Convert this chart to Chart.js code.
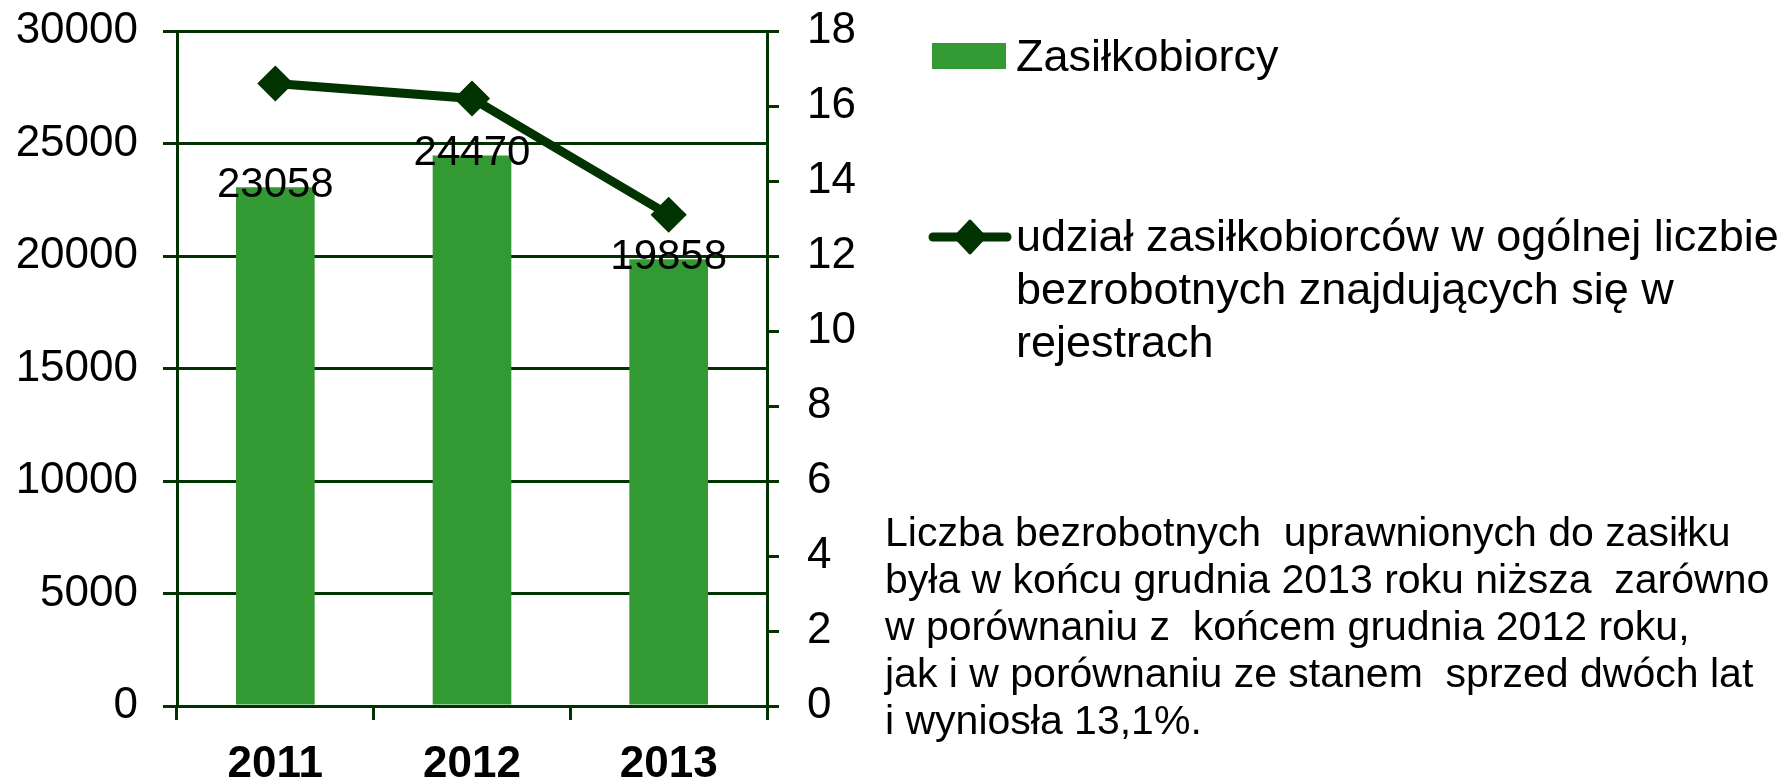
<!DOCTYPE html>
<html>
<head>
<meta charset="utf-8">
<title>Zasiłkobiorcy</title>
<script src="https://cdn.jsdelivr.net/npm/chart.js@4/dist/chart.umd.min.js"></script>
<style>
  html, body { margin: 0; padding: 0; background: #fff; }
  #wrap { width: 1789px; height: 780px; position: relative; }
</style>
</head>
<body>
<div id="wrap"><canvas id="chart" width="1789" height="780"></canvas></div>
<script>
// ── DATA ──
const years       = ['2011', '2012', '2013'];
const benefitRecv = [23058, 24470, 19858];   // Zasiłkobiorcy
const sharePct    = [16.6, 16.2, 13.1];      // udział w ogólnej liczbie bezrobotnych
const leftTicks   = [0, 30000, 5000];        // min, max, step
const rightTicks  = [0, 18, 2];

const legendBar  = 'Zasiłkobiorcy';
const legendLine = ['udział zasiłkobiorców w ogólnej liczbie',
                    'bezrobotnych znajdujących się w',
                    'rejestrach'];
const note = ['Liczba bezrobotnych  uprawnionych do zasiłku',
              'była w końcu grudnia 2013 roku niższa  zarówno',
              'w porównaniu z  końcem grudnia 2012 roku,',
              'jak i w porównaniu ze stanem  sprzed dwóch lat',
              'i wyniosła 13,1%.'];

// ── COLORS ──
const COLORS = {
  bar:  '#339933',
  dark: '#003300',
  text: '#000000',
};

const FONT = "'Liberation Sans', Arial, sans-serif";
Chart.defaults.font.family = FONT;
Chart.defaults.color       = COLORS.text;

// ── PLUGIN: value labels on bars ──
const barLabels = {
  id: 'barLabels',
  afterDatasetsDraw(chart) {
    const ctx  = chart.ctx;
    const meta = chart.getDatasetMeta(1);   // bar dataset
    ctx.save();
    ctx.font = `42px ${FONT}`;
    ctx.fillStyle = COLORS.text;
    ctx.textAlign = 'center';
    ctx.textBaseline = 'alphabetic';
    meta.data.forEach((bar, i) => {
      ctx.fillText(String(benefitRecv[i]), bar.x, bar.y + 10);
    });
    ctx.restore();
  }
};

// ── PLUGIN: legend + side note ──
const sidePanel = {
  id: 'sidePanel',
  afterDraw(chart) {
    const ctx = chart.ctx;
    ctx.save();

    // bar swatch
    ctx.fillStyle = COLORS.bar;
    ctx.fillRect(932, 43, 74, 26);

    // line swatch
    ctx.strokeStyle = COLORS.dark;
    ctx.lineWidth = 9;
    ctx.lineCap = 'round';
    ctx.beginPath();
    ctx.moveTo(933, 237);
    ctx.lineTo(1007, 237);
    ctx.stroke();
    ctx.fillStyle = COLORS.dark;
    ctx.lineJoin = 'round';
    ctx.lineWidth = 3;
    ctx.beginPath();
    ctx.moveTo(970, 221);
    ctx.lineTo(985, 237);
    ctx.lineTo(970, 253);
    ctx.lineTo(955, 237);
    ctx.closePath();
    ctx.fill();
    ctx.stroke();

    ctx.fillStyle = COLORS.text;
    ctx.textAlign = 'left';
    ctx.textBaseline = 'alphabetic';
    ctx.font = `45px ${FONT}`;
    ctx.fillText(legendBar, 1016, 71);
    legendLine.forEach((t, i) => ctx.fillText(t, 1016, 251 + i * 53));

    ctx.font = `41px ${FONT}`;
    note.forEach((t, i) => ctx.fillText(t, 885, 546 + i * 47));

    ctx.restore();
  }
};

// keep the plot area exactly where the padding puts it
const noEdgePad = s => { s.paddingTop = 0; s.paddingBottom = 0; };

new Chart(document.getElementById('chart'), {
  type: 'bar',
  data: {
    labels: years,
    datasets: [
      {
        type: 'line',
        label: legendLine.join(' '),
        data: sharePct,
        yAxisID: 'y1',
        borderColor: COLORS.dark,
        backgroundColor: COLORS.dark,
        borderWidth: 9,
        pointStyle: 'rectRot',
        pointRadius: 16,
        pointBorderWidth: 3,
        pointBackgroundColor: COLORS.dark,
        pointBorderColor: COLORS.dark,
        tension: 0,
        order: 0,
      },
      {
        type: 'bar',
        label: legendBar,
        data: benefitRecv,
        yAxisID: 'y',
        backgroundColor: COLORS.bar,
        barPercentage: 0.4,
        categoryPercentage: 1,
        order: 1,
      },
    ],
  },
  options: {
    responsive: false,
    animation: false,
    layout: { padding: { left: 0, right: 922, top: 31, bottom: 0 } },
    plugins: {
      legend:  { display: false },
      tooltip: { enabled: false },
    },
    scales: {
      x: {
        grid:   { drawOnChartArea: false, color: COLORS.dark, lineWidth: 3, tickLength: 14 },
        border: { color: COLORS.dark, width: 3 },
        ticks:  { font: { size: 44, weight: 'bold' }, color: COLORS.text, padding: 18 },
        afterFit: s => { s.height = 74; },
      },
      y: {
        position: 'left',
        min: leftTicks[0], max: leftTicks[1],
        ticks:  { stepSize: leftTicks[2], padding: 25, font: { size: 44 }, color: COLORS.text,
                  callback: v => String(v) },
        grid:   { color: COLORS.dark, lineWidth: 3, tickLength: 14 },
        border: { color: COLORS.dark, width: 3 },
        afterFit: s => { s.width = 177; noEdgePad(s); },
      },
      y1: {
        position: 'right',
        min: rightTicks[0], max: rightTicks[1],
        ticks:  { stepSize: rightTicks[2], padding: 28, font: { size: 44 }, color: COLORS.text },
        grid:   { drawOnChartArea: false, color: COLORS.dark, lineWidth: 3, tickLength: 12 },
        border: { color: COLORS.dark, width: 3 },
        afterFit: s => { s.width = 100; noEdgePad(s); },
      },
    },
  },
  plugins: [barLabels, sidePanel],
});
</script>
</body>
</html>
